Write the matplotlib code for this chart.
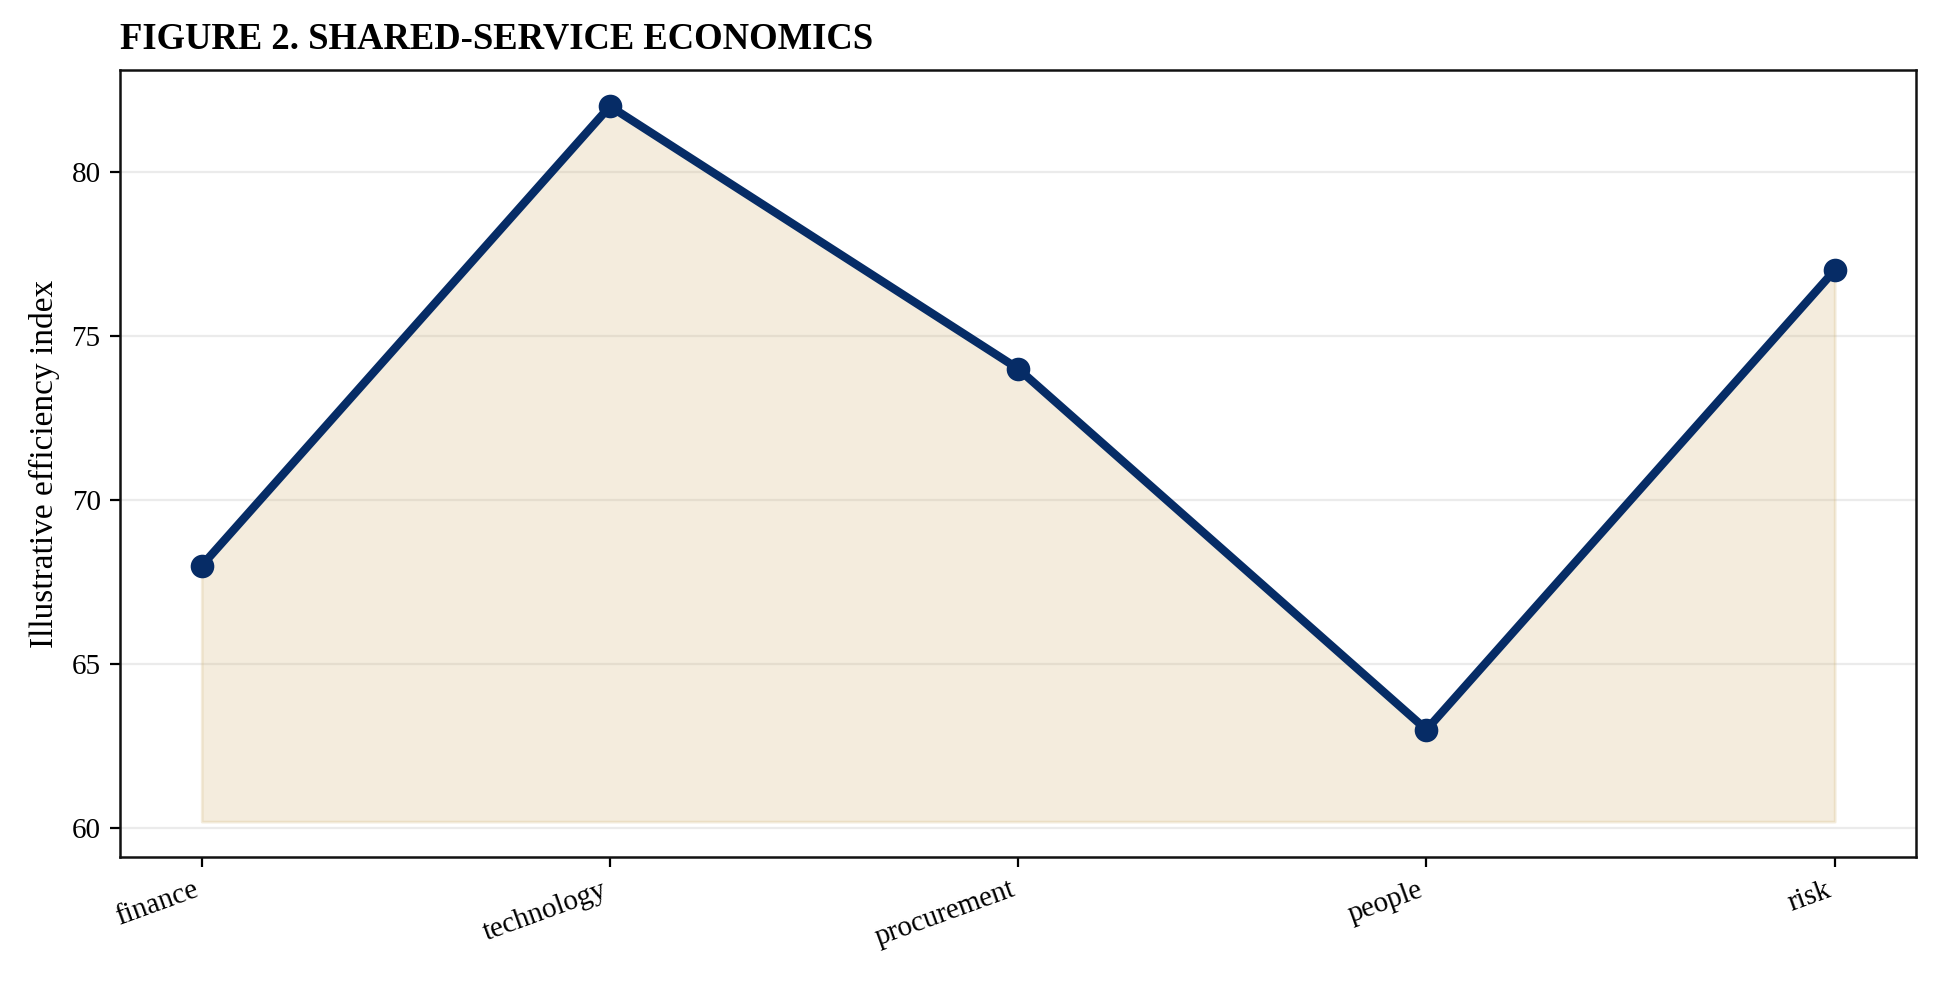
import matplotlib
matplotlib.use("Agg")
import matplotlib.pyplot as plt

categories = ["finance", "technology", "procurement", "people", "risk"]
values = [68, 82, 74, 63, 77]
fill_base = 60.2

plt.rcParams['font.family'] = ['Liberation Serif', 'DejaVu Serif']

fig = plt.figure(figsize=(9.7, 4.915), dpi=200)
ax = fig.add_axes([0.0619, 0.1278, 0.9259, 0.8005])

x = list(range(len(categories)))
ax.fill_between(x, values, fill_base, color="#d4b77a", alpha=0.25, linewidth=1, zorder=1)
ax.plot(x, values, color="#062c66", linewidth=3.0, marker="o", markersize=7.5, zorder=3)

ax.set_xticks(x)
ax.set_xticklabels(categories, rotation=20, ha="right", fontsize=10.5)
ax.tick_params(axis="y", labelsize=10.5)
ax.set_yticks([60, 65, 70, 75, 80])
ax.set_ylabel("Illustrative efficiency index", fontsize=12)
ax.grid(axis="y", color="#e6e6e6", linewidth=0.8, alpha=0.8, zorder=0)
ax.set_axisbelow(True)
for s in ax.spines.values():
    s.set_linewidth(0.9)
    s.set_color("#111111")

ax.set_title("FIGURE 2. SHARED-SERVICE ECONOMICS", loc="left", fontsize=13.2, fontweight="bold", pad=8)

fig.savefig("out.png", dpi=200)
